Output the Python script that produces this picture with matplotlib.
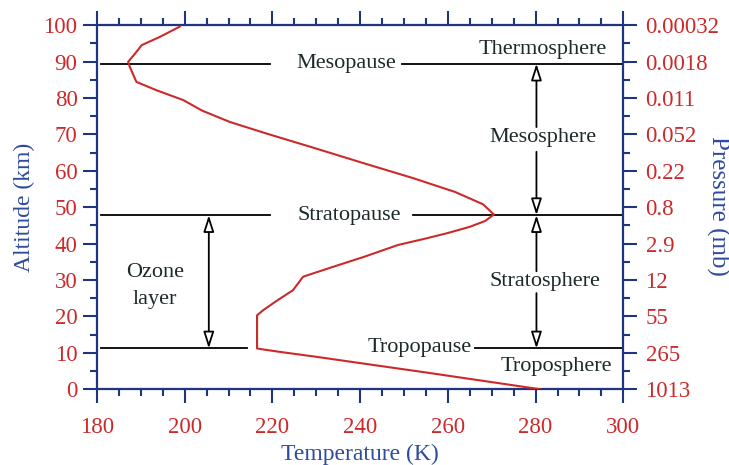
import matplotlib
matplotlib.use("Agg")
import matplotlib.pyplot as plt
from matplotlib.ticker import MultipleLocator

# ---- data ----
temp_K = [281, 268, 255, 241, 230, 222, 218, 216.5, 216.5, 216.5, 217.9, 221, 224.7, 227, 233.8, 241,
          248.6, 255, 260, 265, 268.5, 270.5, 268, 261.6, 252, 241, 228.6, 218.7, 210.3,
          204, 199.7, 193.6, 189, 187.5, 187.1, 188.7, 190.2, 194.4, 198.9]
alt_km = [0, 2.3, 4.6, 7.0, 8.9, 10.2, 10.9, 11.2, 15, 20.3, 21.7, 24.3, 27.2, 30.9, 33.6, 36.4,
          39.6, 41.4, 42.9, 44.6, 46.2, 48.0, 50.8, 54.2, 58.0, 62.0, 66.6, 70.2, 73.4,
          76.5, 79.4, 82.1, 84.4, 88.5, 89.9, 92.2, 94.5, 96.8, 99.6]

pressure_ticks_km = [0, 10, 20, 30, 40, 50, 60, 70, 80, 90, 100]
pressure_labels = ["1013", "265", "55", "12", "2.9", "0.8", "0.22", "0.052", "0.011", "0.0018", "0.00032"]

mesopause_km = 89.4
stratopause_km = 47.8
tropopause_km = 11.2

RED = "#cc2a2a"
NAVY = "#1f3580"
BLUE = "#2e4b9e"
TXT = "#1e2a2a"

plt.rcParams['font.family'] = ['Liberation Serif', 'DejaVu Serif']

fig = plt.figure(figsize=(7.29, 4.65), dpi=100)
ax = fig.add_axes([0.133, 0.163, 0.722, 0.783])

ax.plot(temp_K, alt_km, color=RED, lw=1.5, zorder=3)

ax.set_xlim(180, 300)
ax.set_ylim(0, 100)
ax.xaxis.set_major_locator(MultipleLocator(20))
ax.xaxis.set_minor_locator(MultipleLocator(5))
ax.yaxis.set_major_locator(MultipleLocator(10))
ax.yaxis.set_minor_locator(MultipleLocator(5))

for s in ax.spines.values():
    s.set_color(NAVY)
    s.set_linewidth(1.6)

ax.tick_params(axis='both', which='both', direction='out', color=NAVY, width=1.5,
               labelcolor=RED, labelsize=16.5, top=True)
ax.tick_params(which='major', length=10)
ax.tick_params(which='minor', length=5)
ax.tick_params(axis='x', which='major', pad=10)
ax.tick_params(axis='y', which='major', pad=4)

ax.set_xlabel("Temperature (K)", color=BLUE, fontsize=17, labelpad=4)
ax.set_ylabel("Altitude (km)", color=BLUE, fontsize=17, labelpad=6)

ax2 = ax.twinx()
ax2.set_ylim(0, 100)
ax2.set_yticks(pressure_ticks_km)
ax2.set_yticklabels(pressure_labels)
ax2.yaxis.set_minor_locator(MultipleLocator(5))
for s in ax2.spines.values():
    s.set_visible(False)
ax2.tick_params(axis='y', which='both', direction='out', color=NAVY, width=1.5,
                labelcolor=RED, labelsize=16.5)
ax2.tick_params(which='major', length=10, pad=6)
ax2.tick_params(which='minor', length=5)
ax2.set_ylabel("Pressure (mb)", color=BLUE, fontsize=18, rotation=-90, va='center')
ax2.yaxis.set_label_coords(1.18, 0.503)

lk = dict(color='black', lw=1.3, zorder=2)
# mesopause
ax.plot([181, 219.5], [mesopause_km] * 2, **lk)
ax.plot([249.6, 300], [mesopause_km] * 2, **lk)
# stratopause
ax.plot([181, 219.5], [stratopause_km] * 2, **lk)
ax.plot([252, 300], [stratopause_km] * 2, **lk)
# tropopause
ax.plot([181, 214.1], [tropopause_km] * 2, **lk)
ax.plot([266.2, 300], [tropopause_km] * 2, **lk)

tk = dict(color=TXT, fontsize=16, va='center')
ax.text(236.9, mesopause_km, "Mesopause", ha='center', **tk)
ax.text(237.5, stratopause_km, "Stratopause", ha='center', **tk)
ax.text(265.5, tropopause_km + 0.3, "Tropopause", ha='right', **tk)
ax.text(281.7, 93.2, "Thermosphere", ha='center', **tk)
ax.text(281.7, 69.0, "Mesosphere", ha='center', **tk)
ax.text(282.2, 29.5, "Stratosphere", ha='center', **tk)
ax.text(284.8, 6.1, "Troposphere", ha='center', **tk)
ax.text(193.2, 28.4, "Ozone\nlayer", ha='center', linespacing=1.6, **tk)

arr = dict(arrowstyle='-|>,head_length=1.0,head_width=0.32', fc='white', ec='black',
           lw=1.3, shrinkA=0, shrinkB=0)
dbl = dict(arrowstyle='<|-|>,head_length=1.0,head_width=0.32', fc='white', ec='black',
           lw=1.3, shrinkA=0, shrinkB=0)

x_ar = 280.2
ax.annotate("", xy=(x_ar, mesopause_km), xytext=(x_ar, 72.0), arrowprops=arr)
ax.annotate("", xy=(x_ar, stratopause_km), xytext=(x_ar, 65.2), arrowprops=arr)
ax.annotate("", xy=(x_ar, stratopause_km), xytext=(x_ar, 32.4), arrowprops=arr)
ax.annotate("", xy=(x_ar, tropopause_km), xytext=(x_ar, 26.4), arrowprops=arr)
ax.annotate("", xy=(205.5, stratopause_km), xytext=(205.5, tropopause_km), arrowprops=dbl)

fig.savefig("out.png", dpi=100)
